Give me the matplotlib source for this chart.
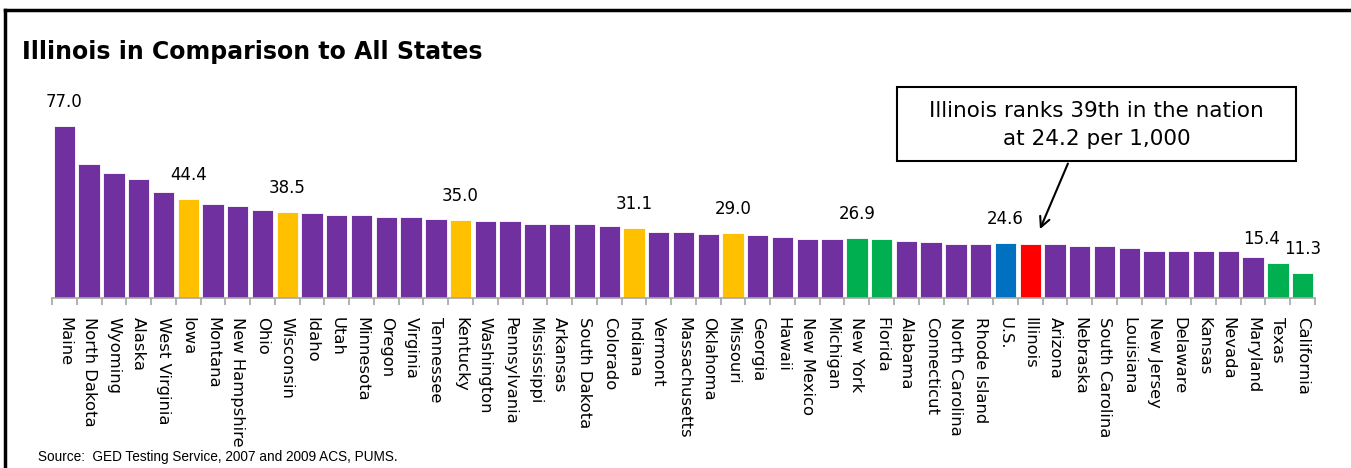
"""Illinois in comparison to all states: one bar per state, sorted, with a few
highlighted and labelled bars and a call-out for Illinois."""
import matplotlib
matplotlib.use("Agg")
import matplotlib.pyplot as plt
from matplotlib.lines import Line2D

STATES = ["Maine", "North Dakota", "Wyoming", "Alaska", "West Virginia", "Iowa",
          "Montana", "New Hampshire", "Ohio", "Wisconsin", "Idaho", "Utah",
          "Minnesota", "Oregon", "Virginia", "Tennessee", "Kentucky", "Washington",
          "Pennsylvania", "Mississippi", "Arkansas", "South Dakota", "Colorado",
          "Indiana", "Vermont", "Massachusetts", "Oklahoma", "Missouri", "Georgia",
          "Hawaii", "New Mexico", "Michigan", "New York", "Florida", "Alabama",
          "Connecticut", "North Carolina", "Rhode Island", "U.S.", "Illinois",
          "Arizona", "Nebraska", "South Carolina", "Louisiana", "New Jersey",
          "Delaware", "Kansas", "Nevada", "Maryland", "Texas", "California"]
RATES = [77.0, 59.8, 55.8, 53.3, 47.6, 44.4,
         41.9, 41.0, 39.4, 38.5, 37.9, 37.0,
         37.0, 36.3, 36.3, 35.3, 35.0, 34.4,
         34.4, 33.0, 33.0, 33.0, 32.1,
         31.1, 29.6, 29.6, 28.7, 29.0, 28.0,
         27.1, 26.2, 26.2, 26.9, 26.3, 25.3,
         24.8, 24.2, 24.2, 24.6, 24.2,
         24.1, 23.3, 23.3, 22.4, 20.9,
         20.9, 20.9, 20.9, 18.3, 15.4, 11.3]
GROUP = {"Iowa": "mid", "Wisconsin": "mid", "Kentucky": "mid", "Indiana": "mid",
         "Missouri": "mid", "New York": "big", "Florida": "big", "Texas": "big",
         "California": "big", "U.S.": "us", "Illinois": "il"}
LABELLED = ["Maine", "Iowa", "Wisconsin", "Kentucky", "Indiana", "Missouri",
            "New York", "U.S.", "Texas", "California"]
TITLE = "Illinois in Comparison to All States"
CALLOUT = "Illinois ranks 39th in the nation\nat 24.2 per 1,000"
SOURCE = "Source:  GED Testing Service, 2007 and 2009 ACS, PUMS."

COLORS = {"base": "#7030A0", "mid": "#FFC000", "big": "#00B050",
          "us": "#0070C0", "il": "#FF0000"}

W, H = 1351, 468
fig = plt.figure(figsize=(W / 100, H / 100), dpi=100)
# axes placed in pixel coordinates: baseline at y=297.7, 51 slots from x=52 to 1315
x0, x1, base = 52, 1315, 297.7
ymax = 85
ppu = 171.6 / 77.0
top = base - ymax * ppu
ax = fig.add_axes([x0 / W, 1 - base / H, (x1 - x0) / W, (base - top) / H])

xs = list(range(len(STATES)))
cols = [COLORS[GROUP.get(s, "base")] for s in STATES]
ax.bar(xs, RATES, width=0.86, color=cols, edgecolor="white", linewidth=0.6)
ax.set_xlim(-0.5, len(STATES) - 0.5)
ax.set_ylim(0, ymax)
for s in ("top", "right", "left"):
    ax.spines[s].set_visible(False)
ax.spines["bottom"].set_color("#a6a6a6")
ax.spines["bottom"].set_linewidth(1.2)
ax.set_yticks([])
ax.set_xticks([x - 0.5 for x in xs] + [len(xs) - 0.5], minor=True)
ax.set_xticks(xs)
ax.set_xticklabels(STATES, rotation=270, fontsize=11.8, va="top", ha="center")
ax.tick_params(axis="x", which="major", length=0, pad=14)
ax.tick_params(axis="x", which="minor", length=5, color="#a6a6a6", width=1.2)

for s in LABELLED:
    i = STATES.index(s)
    dx = -16 if s == "Texas" else 0
    ax.annotate(f"{RATES[i]:.1f}", (i, RATES[i]), xytext=(dx, 15),
                textcoords="offset pixels", ha="center", va="bottom", fontsize=12)

# call-out box with arrow to Illinois
fig.text((897 + 1296) / 2 / W, 1 - 125 / H, CALLOUT, ha="center", va="center",
         fontsize=15.5, linespacing=1.45)
fig.patches.append(plt.Rectangle((897 / W, 1 - 161 / H), (1296 - 897) / W, 74 / H,
                                 transform=fig.transFigure, fill=False,
                                 edgecolor="black", linewidth=1.5))
il = STATES.index("Illinois")
ax.annotate("", xy=(il + 0.35, 24.2 + 5.4), xycoords="data",
            xytext=(1069 / W, 1 - 161 / H), textcoords="figure fraction",
            arrowprops=dict(arrowstyle="->", color="black", lw=1.5,
                            mutation_scale=18))

fig.text(22 / W, 1 - 52 / H, TITLE, ha="left", va="center", fontsize=17,
         fontweight="bold")
fig.text(38 / W, 1 - 457 / H, SOURCE, ha="left", va="center", fontsize=9.8,
         family="Liberation Sans")

# frame lines at top and left
fig.add_artist(Line2D([5 / W, 1], [1 - 10 / H, 1 - 10 / H],
                      transform=fig.transFigure, color="black", lw=2.5))
fig.add_artist(Line2D([5 / W, 5 / W], [0, 1 - 10 / H],
                      transform=fig.transFigure, color="black", lw=2.5))

fig.savefig("out.png", dpi=100)
